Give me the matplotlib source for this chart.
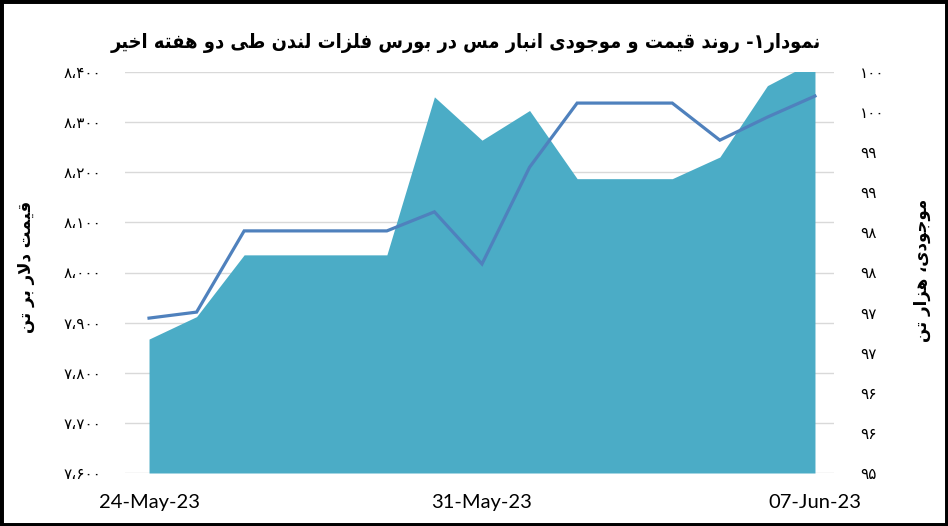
import math
import matplotlib
matplotlib.use("Agg")
import matplotlib.pyplot as plt
from matplotlib.patches import Rectangle
from matplotlib.ticker import FuncFormatter, FixedLocator

# ---------------- data ----------------
dates = ["24-May-23", "25-May-23", "26-May-23", "27-May-23", "28-May-23",
         "29-May-23", "30-May-23", "31-May-23", "01-Jun-23", "02-Jun-23",
         "03-Jun-23", "04-Jun-23", "05-Jun-23", "06-Jun-23", "07-Jun-23"]
price = [7909, 7921, 8083, 8083, 8083, 8083, 8121, 8017, 8210, 8338,
         8338, 8338, 8264, 8310, 8352]                 # USD / t (left axis)
inventory = [96.67, 96.95, 97.72, 97.72, 97.72, 97.72, 99.69, 99.15, 99.52,
             98.67, 98.67, 98.67, 98.94, 99.83, 100.14]  # thousand t (right axis)
xtick_labels = ["24-May-23", "31-May-23", "07-Jun-23"]
xtick_idx = [0, 7, 14]
left_ticks = [7600, 7700, 7800, 7900, 8000, 8100, 8200, 8300, 8400]
right_ticks = [95, 95.5, 96, 96.5, 97, 97.5, 98, 98.5, 99, 99.5, 100]

title = "نمودار۱- روند قیمت و موجودی انبار مس در بورس فلزات لندن طی دو هفته اخیر"
left_title = "قیمت دلار بر تن"
right_title = "موجودی، هزار تن"

# ---------------- simple Persian shaping ----------------
FORMS = {
    'ا': (0xFE8D, 0xFE8E, None, None),
    'ب': (0xFE8F, 0xFE90, 0xFE91, 0xFE92),
    'ت': (0xFE95, 0xFE96, 0xFE97, 0xFE98),
    'ج': (0xFE9D, 0xFE9E, 0xFE9F, 0xFEA0),
    'خ': (0xFEA5, 0xFEA6, 0xFEA7, 0xFEA8),
    'د': (0xFEA9, 0xFEAA, None, None),
    'ر': (0xFEAD, 0xFEAE, None, None),
    'ز': (0xFEAF, 0xFEB0, None, None),
    'س': (0xFEB1, 0xFEB2, 0xFEB3, 0xFEB4),
    'ط': (0xFEC1, 0xFEC2, 0xFEC3, 0xFEC4),
    'ف': (0xFED1, 0xFED2, 0xFED3, 0xFED4),
    'ق': (0xFED5, 0xFED6, 0xFED7, 0xFED8),
    'ل': (0xFEDD, 0xFEDE, 0xFEDF, 0xFEE0),
    'م': (0xFEE1, 0xFEE2, 0xFEE3, 0xFEE4),
    'ن': (0xFEE5, 0xFEE6, 0xFEE7, 0xFEE8),
    'ه': (0xFEE9, 0xFEEA, 0xFEEB, 0xFEEC),
    'و': (0xFEED, 0xFEEE, None, None),
    'ی': (0xFEEF, 0xFEF0, 0xFEF3, 0xFEF4),
}


def dual(c):
    return c in FORMS and FORMS[c][2] is not None


def joins(c):
    return c in FORMS


def shape(text):
    out = []
    n = len(text)
    i = 0
    while i < n:
        c = text[i]
        if c not in FORMS:
            out.append(c)
            i += 1
            continue
        prev_conn = i > 0 and dual(text[i - 1])
        # lam-alef ligature
        if c == 'ل' and i + 1 < n and text[i + 1] == 'ا':
            out.append(chr(0xFEFC if prev_conn else 0xFEFB))
            i += 2
            continue
        next_conn = dual(c) and i + 1 < n and joins(text[i + 1])
        iso, fin, ini, med = FORMS[c]
        if prev_conn and next_conn:
            g = med
        elif prev_conn:
            g = fin
        elif next_conn:
            g = ini
        else:
            g = iso
        out.append(chr(g))
        i += 1
    return "".join(reversed(out))


FA_DIGITS = str.maketrans("0123456789", "۰۱۲۳۴۵۶۷۸۹")


def fa_thousands(v, pos=None):
    s = "{:,.0f}".format(v).replace(",", "،")
    return s.translate(FA_DIGITS)


def fa_round(v, pos=None):
    return str(int(math.floor(v + 0.5))).translate(FA_DIGITS)


# ---------------- figure ----------------
plt.rcParams['font.family'] = ['DejaVu Sans']
fig = plt.figure(figsize=(9.48, 5.26), dpi=100)
fig.patch.set_facecolor("white")

ax2 = fig.add_axes([125 / 948, 53 / 526, 709 / 948, 401 / 526])
ax = ax2.twinx()
ax.set_zorder(2)
ax2.set_zorder(1)
ax.patch.set_visible(False)

x = list(range(len(dates)))

# inventory area on secondary (right) axis
ax2.set_ylim(95, 100)
for k in range(9):
    ax2.axhline(95 + k * 0.625, color="#D9D9D9", lw=1.0, zorder=1)
ax2.fill_between(x, 95, inventory, color="#4BACC6", lw=0, zorder=2)

# price line on primary (left) axis
ax.plot(x, price, color="#4F81BD", lw=2.3, zorder=3, solid_joinstyle="miter")
ax.set_ylim(7600, 8400)

for a in (ax, ax2):
    a.set_xlim(-0.505, 14.4)
    for s in a.spines.values():
        s.set_visible(False)

# left axis (price) labels on the left side
ax.yaxis.set_label_position("left")
ax.yaxis.tick_left()
ax.yaxis.set_major_locator(FixedLocator(left_ticks))
ax.yaxis.set_major_formatter(FuncFormatter(fa_thousands))
ax.tick_params(axis="y", length=0, pad=17, labelsize=11, labelcolor="#000000")

# right axis (inventory) labels on the right side
ax2.yaxis.tick_right()
ax2.yaxis.set_major_locator(FixedLocator(right_ticks))
ax2.yaxis.set_major_formatter(FuncFormatter(fa_round))
ax2.tick_params(axis="y", length=0, pad=19, labelsize=11, labelcolor="#000000")

ax2.set_xticks(xtick_idx)
ax2.set_xticklabels(xtick_labels, fontfamily="Lato", fontsize=14.5)
ax2.tick_params(axis="x", length=0, pad=15)

# titles
fig.text(466 / 948, 1 - 43 / 526, shape(title), ha="center", va="center",
         fontsize=14.3, fontweight="bold", fontstretch="condensed")
fig.text(26 / 948, 1 - 267 / 526, shape(left_title), rotation=90,
         ha="center", va="center", fontsize=12, fontweight="bold")
fig.text(922 / 948, 1 - 270 / 526, shape(right_title), rotation=90,
         ha="center", va="center", fontsize=12, fontweight="bold")

# outer frame
fig.patches.append(Rectangle((0, 0), 1, 1, transform=fig.transFigure,
                             fill=False, edgecolor="black", lw=5))

fig.savefig("out.png", dpi=100)
